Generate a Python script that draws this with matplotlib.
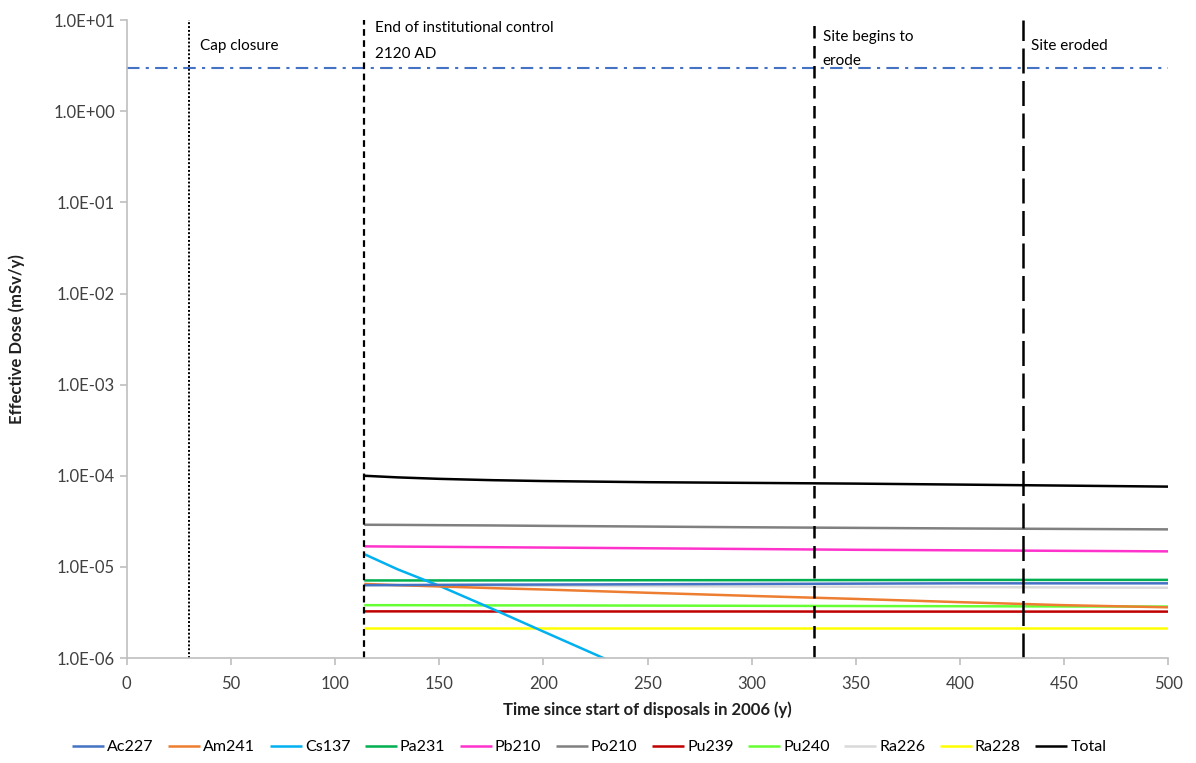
import matplotlib
import matplotlib.pyplot as plt
from matplotlib.ticker import FixedLocator, FuncFormatter

matplotlib.use('Agg')

plt.rcParams['font.family'] = ['Lato', 'DejaVu Sans']

years = [114, 130, 150, 175, 200, 250, 300, 350, 400, 450, 500]

ac227 = [6.3e-6, 6.32e-6, 6.35e-6, 6.38e-6, 6.4e-6, 6.45e-6, 6.5e-6, 6.55e-6, 6.6e-6, 6.6e-6, 6.6e-6]
am241 = [6.5e-6, 6.3e-6, 6.1e-6, 5.85e-6, 5.65e-6, 5.2e-6, 4.8e-6, 4.45e-6, 4.1e-6, 3.8e-6, 3.6e-6]
cs137 = [1.38e-5, 9.4e-6, 6.2e-6, 3.5e-6, 1.95e-6, 6.1e-7, 1.9e-7, 6e-8, 1.9e-8, 6e-9, 1.9e-9]
pa231 = [7.1e-6, 7.1e-6, 7.1e-6, 7.11e-6, 7.12e-6, 7.14e-6, 7.15e-6, 7.17e-6, 7.19e-6, 7.2e-6, 7.2e-6]
pb210 = [1.68e-5, 1.67e-5, 1.66e-5, 1.645e-5, 1.63e-5, 1.6e-5, 1.57e-5, 1.54e-5, 1.52e-5, 1.5e-5, 1.48e-5]
po210 = [2.9e-5, 2.89e-5, 2.87e-5, 2.85e-5, 2.82e-5, 2.77e-5, 2.72e-5, 2.68e-5, 2.64e-5, 2.61e-5, 2.58e-5]
pu239 = [3.25e-6, 3.25e-6, 3.25e-6, 3.24e-6, 3.24e-6, 3.24e-6, 3.24e-6, 3.23e-6, 3.23e-6, 3.23e-6, 3.23e-6]
pu240 = [3.8e-6, 3.8e-6, 3.79e-6, 3.78e-6, 3.78e-6, 3.76e-6, 3.74e-6, 3.72e-6, 3.7e-6, 3.68e-6, 3.67e-6]
ra226 = [6.3e-6, 6.28e-6, 6.25e-6, 6.22e-6, 6.2e-6, 6.15e-6, 6.1e-6, 6.05e-6, 6.0e-6, 5.95e-6, 5.9e-6]
ra228 = [2.15e-6] * 11
total = [1.0e-4, 9.6e-5, 9.25e-5, 8.95e-5, 8.75e-5, 8.5e-5, 8.35e-5, 8.2e-5, 8.0e-5, 7.8e-5, 7.6e-5]

series = [
    ('Ac227', ac227, '#4472C4'),
    ('Am241', am241, '#ED7D31'),
    ('Cs137', cs137, '#00B0F0'),
    ('Pa231', pa231, '#00B050'),
    ('Pb210', pb210, '#FF33CC'),
    ('Po210', po210, '#808080'),
    ('Pu239', pu239, '#C00000'),
    ('Pu240', pu240, '#66FF33'),
    ('Ra226', ra226, '#D9D9D9'),
    ('Ra228', ra228, '#FFFF00'),
    ('Total', total, '#000000'),
]

limit_dose = 3.0
events = [30, 114, 330, 430]

fig = plt.figure(figsize=(11.96, 7.63), dpi=100)
ax = fig.add_axes([0.106, 0.1376, 0.871, 0.836])

# draw in reverse so Total and upper lines stay on top
for name, vals, col in reversed(series):
    ax.plot(years, vals, color=col, lw=1.8, label=name, solid_capstyle='butt')

ax.plot([0, 500], [limit_dose, limit_dose], color='#4472C4', lw=1.5, ls=(0, (6, 3, 1.5, 3)))

ax.axvline(events[0], color='black', lw=1.4, ls=(0, (1, 1)))
ax.axvline(events[1], color='black', lw=1.6, ls=(0, (3, 2)))
ax.axvline(events[2], color='black', lw=1.8, ls=(0, (5, 3)))
ax.axvline(events[3], color='black', lw=1.8, ls=(0, (10, 3)))

ax.text(35, 5.2, 'Cap closure', fontsize=11, va='center')
ax.text(119, 8.3, 'End of institutional control', fontsize=11, va='center')
ax.text(119, 4.2, '2120 AD', fontsize=11, va='center')
ax.text(334, 6.5, 'Site begins to', fontsize=11, va='center')
ax.text(334, 3.6, 'erode', fontsize=11, va='center')
ax.text(434, 5.2, 'Site eroded', fontsize=11, va='center')

ax.set_yscale('log')
ax.set_ylim(1e-6, 10)
ax.set_xlim(0, 500)
ax.yaxis.set_major_locator(FixedLocator([10.0 ** k for k in range(-6, 2)]))
ax.yaxis.set_minor_locator(FixedLocator([]))
ax.yaxis.set_major_formatter(FuncFormatter(lambda v, p: f'{v:.1E}'))
ax.set_xticks(range(0, 501, 50))

for s in ['top', 'right']:
    ax.spines[s].set_visible(False)
for s in ['left', 'bottom']:
    ax.spines[s].set_color('#BFBFBF')
    ax.spines[s].set_linewidth(1.2)
ax.tick_params(axis='both', colors='#BFBFBF', labelcolor='#404040', labelsize=12, length=5, width=1.2)
ax.tick_params(axis='x', pad=8)

ax.set_xlabel('Time since start of disposals in 2006 (y)', fontsize=12, fontweight='bold', color='#202020', labelpad=7)
ax.set_ylabel('Effective Dose (mSv/y)', fontsize=12, fontweight='bold', color='#202020', labelpad=20)

handles, labels = ax.get_legend_handles_labels()
ax.legend(handles[::-1], labels[::-1], loc='center', bbox_to_anchor=(0.444, -0.14), ncol=11,
          frameon=False, fontsize=11.5, handlelength=2.0, handletextpad=0.2, columnspacing=0.9)

plt.savefig('out.png', dpi=100)
plt.close()
